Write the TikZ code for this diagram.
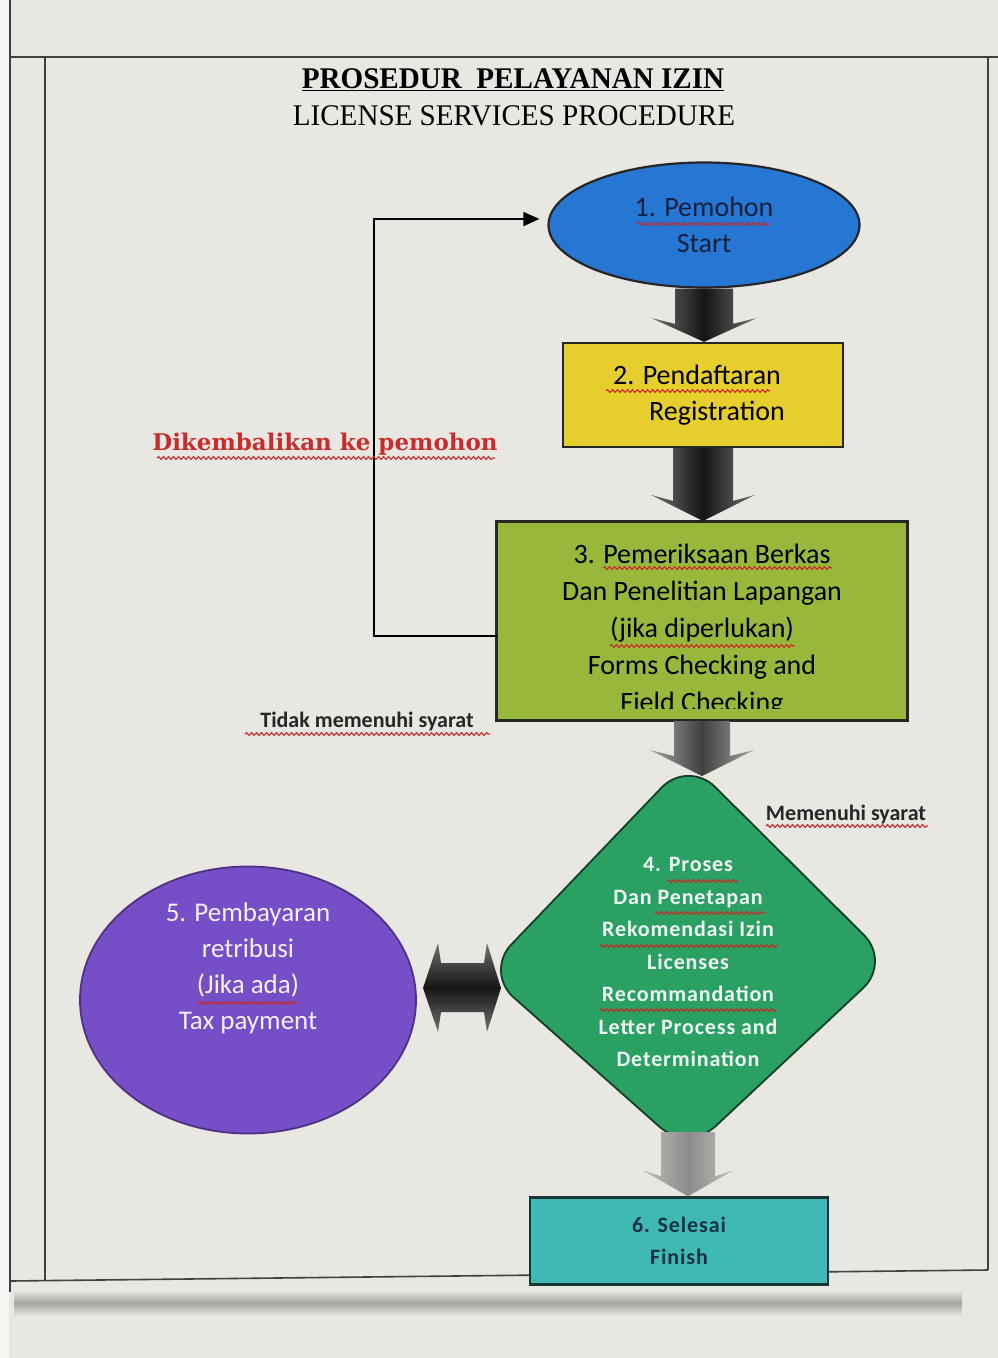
\documentclass[tikz,border=0pt]{standalone}
\usepackage{fontspec}
\setmainfont{Carlito}
\newfontfamily\titlefont[FakeStretch=0.97]{Liberation Serif}
\newfontfamily\spacedfont[LetterSpace=4]{Carlito}
\newfontfamily\redfont{DejaVu Serif}
\usetikzlibrary{shapes.geometric,calc,arrows.meta,decorations.pathmorphing}
\definecolor{bgc}{RGB}{232,231,226}
\definecolor{blueA}{RGB}{38,118,212}
\definecolor{yellowA}{RGB}{230,206,45}
\definecolor{oliveA}{RGB}{152,184,60}
\definecolor{greenA}{RGB}{42,160,98}
\definecolor{purpleA}{RGB}{118,78,200}
\definecolor{tealA}{RGB}{62,185,182}
\definecolor{wavered}{RGB}{205,40,40}
\definecolor{labelred}{RGB}{200,45,45}
\definecolor{navytext}{RGB}{25,32,62}
\definecolor{slatetext}{RGB}{25,50,65}
\newcommand\fsz[2]{\fontsize{#1}{#2}\selectfont}
\newcommand\blockarrow[6]{%
  \shade[#6] let \p1=(#1), \p2=(#2) in
   (\x1-#3,\y1) -- (\x1-#3,\y2+#5) -- (\x1-#4,\y2+#5+6pt) -- (\x1,\y2)
   -- (\x1+#4,\y2+#5+6pt) -- (\x1+#3,\y2+#5) -- (\x1+#3,\y1) -- cycle;}
\begin{document}
\begin{tikzpicture}[x=1pt,y=-1pt,
  tline/.style={draw=black!75,line width=1.6pt},
  boxline/.style={draw=black!85,line width=2.2pt},
  darkarrow/.style={left color=black!55,right color=black!55,middle color=black!92},
  midarrow/.style={left color=black!35,right color=black!35,middle color=black!75},
  lightarrow/.style={left color=black!18!bgc,right color=black!18!bgc,middle color=black!45},
  boxtext/.style={align=center,inner sep=0pt},
  wave/.style={draw=wavered,line width=1.1pt,decorate,decoration={snake,amplitude=1.4pt,segment length=5pt}}]
\useasboundingbox (0,0) rectangle (998,1358);
\fill[bgc] (0,0) rectangle (998,1358);
\fill[white!60!bgc] (0,0) rectangle (9,1358);
% table lines
\draw[tline] (10,0) -- (10,1292);
\draw[tline] (10,57) -- (998,57);
\draw[tline] (45,57) -- (45,1281);
\draw[tline] (988,57) -- (988,1270);
\draw[tline] (10,1281) -- (988,1270);
\shade[top color=bgc,bottom color=bgc,middle color=black!28!bgc] (14,1290) rectangle (962,1316);
% title
\node[font=\titlefont\bfseries\fsz{30}{32}] (title) at (513,80) {\underline{PROSEDUR\ \ PELAYANAN IZIN}};
\node[font=\titlefont\fsz{30}{32}] (subtitle) at (514,116) {LICENSE SERVICES PROCEDURE};
% nodes
\node[ellipse,draw=black!85,line width=2.2pt,fill=blueA,minimum width=311pt,minimum height=125pt,
      boxtext,text=navytext,font=\fsz{28}{36}] (n1) at (704,225) {1. Pemohon\\Start};
\node[boxline,fill=yellowA,minimum width=280pt,minimum height=104pt,boxtext,font=\fsz{28}{36}]
      (n2) at (703,395) {\hspace*{-12pt}2. Pendaftaran\\\hspace*{28pt}Registration};
\node[boxline,fill=oliveA,minimum width=410pt,minimum height=198pt] (n3) at (702,621) {};
\begin{scope}
\clip ($(n3.south west)+(3,-13)$) rectangle ($(n3.north east)+(-3,3)$);
\node[boxtext,font=\fsz{28}{37}] (t3) at (702,630)
  {3. Pemeriksaan Berkas\\Dan Penelitian Lapangan\\(jika diperlukan)\\Forms Checking and\\Field Checking};
\end{scope}
\draw[boxline] (n3.south west) rectangle (n3.north east);
% diamond
\coordinate (d4n) at (688,760);
\coordinate (d4e) at (891,962);
\coordinate (d4s) at (688,1152);
\coordinate (d4w) at (485,972);
\coordinate (d4top) at (688,776);
\coordinate (d4out) at (688,1132);
\draw[draw=black!60!greenA,line width=1.8pt,fill=greenA,rounded corners=38pt]
  ($(d4n)!0.5!(d4e)$) -- (d4e) -- (d4s) -- (d4w) -- (d4n) -- cycle;
\node[boxtext,text=white!92!greenA,font=\spacedfont\bfseries\fsz{22}{32.5}] (d4) at (688,962)
  {4. Proses\\Dan Penetapan\\Rekomendasi Izin\\Licenses\\Recommandation\\Letter Process and\\Determination};
% purple
\node[ellipse,draw=black!35!purpleA,line width=1.8pt,fill=purpleA,minimum width=336pt,minimum height=267pt] (n5) at (248,1000) {};
\node[boxtext,text=white!92!purpleA,font=\fsz{27}{36}] (t5) at (248,968)
  {5. Pembayaran\\retribusi\\(Jika ada)\\Tax payment};
% finish
\node[draw=black!70!tealA,line width=2.2pt,fill=tealA,minimum width=298pt,minimum height=87pt,
      boxtext,text=slatetext,font=\spacedfont\bfseries\fsz{22}{32}] (n6) at (679,1241) {6. Selesai\\Finish};
% block arrows
\blockarrow{n1.south}{n2.north}{29pt}{53pt}{18pt}{darkarrow}
\blockarrow{n2.south}{n3.north}{30pt}{52pt}{20pt}{darkarrow}
\blockarrow{n3.south}{d4top}{28pt}{52pt}{20pt}{midarrow}
\blockarrow{d4out}{n6.north}{27pt}{45pt}{20pt}{lightarrow}
% double arrow between 5 and 4
\coordinate (da) at (423,988);
\coordinate (db) at (501,988);
\shade[top color=black!55,bottom color=black!55,middle color=black!92]
  let \p1=(da), \p2=(db) in
  (\x1,\y1) -- (\x1+15pt,\y1+45pt) -- (\x1+18pt,\y1+25pt) -- (\x2-17pt,\y1+25pt)
  -- (\x2-14pt,\y1+45pt) -- (\x2,\y1) -- (\x2-14pt,\y1-44pt) -- (\x2-17pt,\y1-24pt)
  -- (\x1+18pt,\y1-24pt) -- (\x1+15pt,\y1-44pt) -- cycle;
% labels
\node[font=\redfont\bfseries\fsz{23}{26},text=labelred] (lbl1) at (325,444) {Dikembalikan ke pemohon};
% loop connector
\coordinate (loopstart) at (497,636);
\coordinate (loopx) at (374,0);
\draw[black,line width=1.8pt,-{Triangle[length=16pt,width=14pt]}]
  (loopstart) -- (loopstart -| loopx) |- ($(n1.west)+(-8,-6)$);
\node[font=\bfseries\fsz{22}{26},text=black!85] (lbl2) at (367,722) {Tidak memenuhi syarat};
\node[font=\bfseries\fsz{22}{26},text=black!85] (lbl3) at (846,814) {Memenuhi syarat};
% spell-check underlines
\draw[wave] (637,224) -- (770,224);
\draw[wave] (606,391) -- (770,391);
\draw[wave] (603,568) -- (832,568);
\draw[wave] (610,646) -- (795,646);
\draw[wave] (667,881) -- (738,881);
\draw[wave] (655,913) -- (765,913);
\draw[wave] (600,946) -- (778,946);
\draw[wave] (600,1010) -- (776,1010);
\draw[wave] (198,1003) -- (298,1003);
\draw[wave] (157,458) -- (495,458);
\draw[wave] (245,734) -- (490,734);
\draw[wave] (766,826) -- (928,826);
\end{tikzpicture}
\end{document}
